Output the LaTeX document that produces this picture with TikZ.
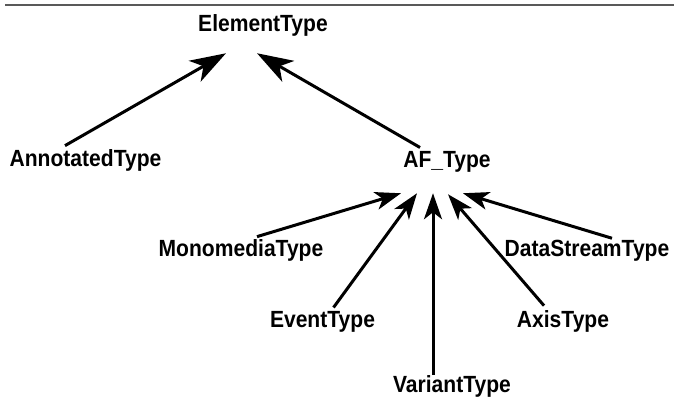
\documentclass[tikz,border=0pt]{standalone}
\usepackage{fontspec}
\setmainfont{Liberation Sans}[FakeStretch=0.9]
\usetikzlibrary{arrows.meta,calc}

\begin{document}
\begin{tikzpicture}[
				x=0.5pt, y=-0.5pt,
				% 类型名称的统一样式
				typename/.style={font=\fontsize{11.7pt}{13pt}\selectfont\bfseries, inner sep=0pt, anchor=base},
				% 继承箭头的统一样式
				isa/.style={-{Stealth[length=13pt, width=9pt, inset=3.5pt]}, line width=1.5pt},
				% 指向根类型的箭头更大
				isa big/.style={isa, -{Stealth[length=18pt, width=12pt, inset=5pt]}}
				]
				
				% ----- 1. 边界与顶部横线 -----
				\useasboundingbox (0,0) rectangle (674,405);
				\draw[line width=0.75pt, black!65] (5,5) -- (674,5);
				
				% ----- 2. 放置类型节点 -----
				% 根类型
				\node[typename] (elem) at (263,32) {ElementType};
				% 第二层
				\node[typename] (annot) at (85.5,167) {AnnotatedType};
				\node[typename] (af) at (447,168) {AF\_Type};
				% 第三层
				\node[typename] (mono) at (241,257) {MonomediaType};
				\node[typename] (stream) at (587,257) {DataStreamType};
				\node[typename] (event) at (322.5,328) {EventType};
				\node[typename] (axis) at (563,328) {AxisType};
				\node[typename] (variant) at (452,393) {VariantType};
				
				% ----- 3. 绘制继承箭头 -----
				% 指向 ElementType
				\draw[isa big] ($(annot.north)+(-20.5,-4)$) -- ($(elem.south)+(-37,16)$);
				\draw[isa big] ($(af.north)+(-27,-4)$) -- ($(elem.south)+(-6,16)$);
				
				% 指向 AF_Type
				\draw[isa] ($(mono.north)+(16,-3)$) -- ($(af.south)+(-46,20)$);
				\draw[isa] ($(event.north)+(11,-4)$) -- ($(af.south)+(-30,20)$);
				\draw[isa] ($(variant.north)+(-19,-1)$) -- ($(af.south)+(-14,20)$);
				\draw[isa] ($(axis.north)+(-19,-5)$) -- ($(af.south)+(1,21)$);
				\draw[isa] ($(stream.north)+(25,-2)$) -- ($(af.south)+(16,20)$);
				
			\end{tikzpicture}
\end{document}
